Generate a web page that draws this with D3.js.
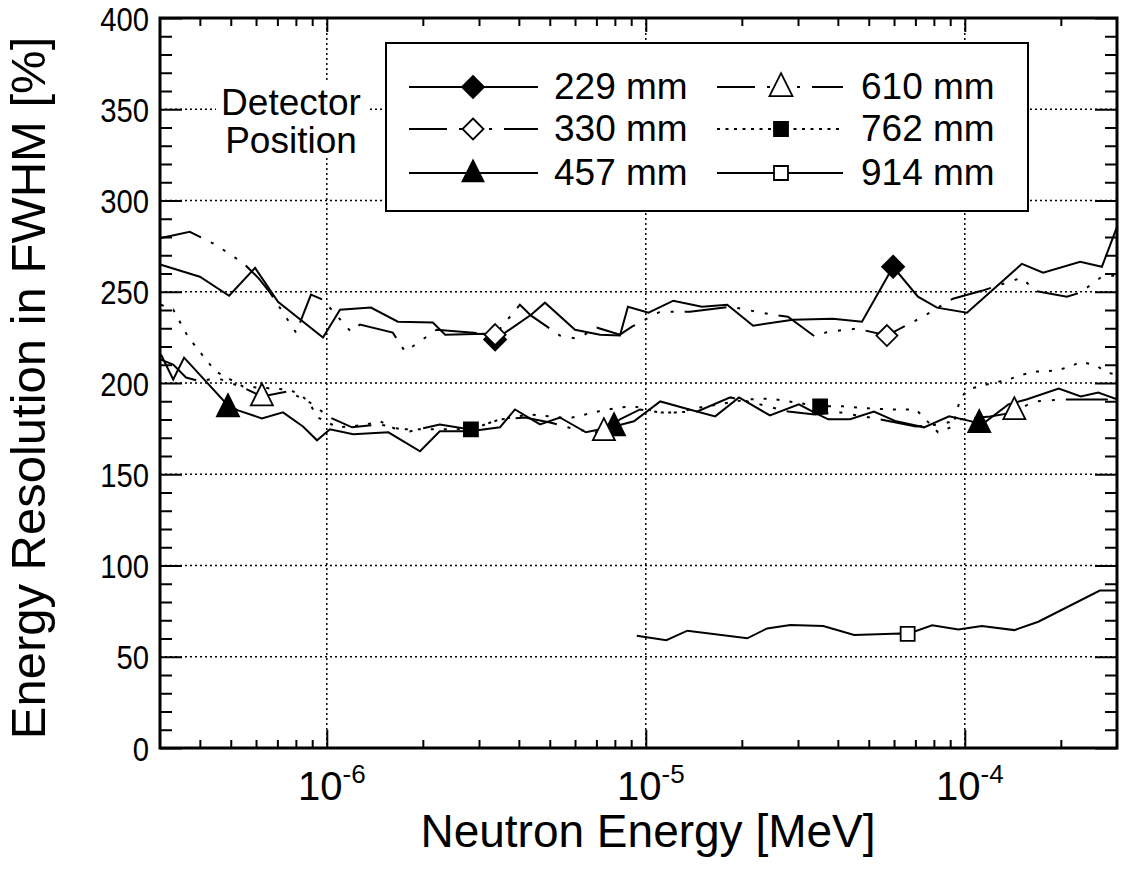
<!DOCTYPE html>
<html><head><meta charset="utf-8">
<script src="https://cdn.jsdelivr.net/npm/d3@7"></script>
<style>
body{margin:0;background:#fff}
svg{display:block}
text{font-family:"Liberation Sans",Arial,Helvetica,sans-serif;fill:#000}
</style>
</head><body>
<svg id="c" width="1123" height="870"></svg>
<script>
// ---------------- data ----------------
const yTickValues=[0,50,100,150,200,250,300,350,400];
const yGridValues=[50,100,150,200,250,300,350];
const xDecades=[1e-6,1e-5,1e-4];
const xDecadeLabels=["-6","-5","-4"];
const xLabel="Neutron Energy [MeV]";
const yLabel="Energy Resolution in FWHM [%]";
const noteLines=["Detector","Position"];
const seriesNames=["229 mm","330 mm","457 mm","610 mm","762 mm","914 mm"];

// [energy MeV, FWHM %]
const s229=[[3.02e-7,264.8],[4.00e-7,258.2],[4.94e-7,247.8],[5.96e-7,263.1],[7.03e-7,244.5],[9.73e-7,224.9],[1.10e-6,240.2],[1.375e-6,241.3],[1.67e-6,233.6],[2.15e-6,233.1],[2.35e-6,226.5],[3.13e-6,227.0],[3.37e-6,223.8],[4.37e-6,237.4],[4.83e-6,244.0],[6.0e-6,229.2],[7.19e-6,226.5],[8.30e-6,226.0],[8.79e-6,241.8],[1.02e-5,238.5],[1.22e-5,245.1],[1.50e-5,241.8],[1.80e-5,242.9],[2.17e-5,231.4],[2.89e-5,234.7],[3.86e-5,235.2],[4.76e-5,233.6],[5.96e-5,263.7],[7.13e-5,247.3],[8.18e-5,241.3],[1.016e-4,238.5],[1.51e-4,265.3],[1.76e-4,260.4],[2.30e-4,266.4],[2.69e-4,263.7],[3.0e-4,285.5]];
const s330=[[3.02e-7,279.5],[3.72e-7,282.8],[4.49e-7,275.7],[5.46e-7,265.8],[6.09e-7,257.7],[6.64e-7,249.5],[8.01e-7,227.6],[8.92e-7,248.4],[9.73e-7,245.6],[1.19e-6,228.1],[1.27e-6,232.0],[1.61e-6,227.6],[1.76e-6,217.2],[2.21e-6,229.2],[3.13e-6,227.0],[3.37e-6,226.5],[4.03e-6,242.9],[4.37e-6,236.9],[5.38e-6,226.0],[6.09e-6,224.3],[7.03e-6,230.3],[8.30e-6,226.5],[9.05e-6,230.9],[1.11e-5,239.1],[1.375e-5,239.1],[1.84e-5,241.8],[2.50e-5,237.4],[2.79e-5,236.3],[3.39e-5,225.4],[3.72e-5,228.1],[4.59e-5,229.8],[5.70e-5,226.0],[7.39e-5,236.3],[9.18e-5,246.2],[1.13e-4,250.5],[1.51e-4,257.7],[1.66e-4,250.5],[2.09e-4,247.3],[2.30e-4,249.5],[2.71e-4,258.7],[3.0e-4,258.7]];
const s457=[[3.02e-7,215.6],[3.30e-7,201.9],[3.57e-7,213.9],[4.90e-7,187.7],[5.27e-7,185.0],[6.26e-7,180.6],[7.29e-7,183.9],[8.42e-7,176.2],[9.32e-7,168.6],[1.023e-6,174.6],[1.21e-6,171.9],[1.56e-6,173.0],[1.96e-6,162.6],[2.26e-6,173.5],[2.81e-6,173.5],[3.49e-6,175.7],[3.89e-6,185.5],[4.66e-6,177.3],[5.38e-6,181.1],[6.49e-6,173.0],[7.95e-6,176.2],[9.18e-6,179.0],[1.11e-5,189.9],[1.37e-5,185.5],[1.65e-5,181.7],[1.96e-5,192.1],[2.45e-5,182.2],[3.02e-5,188.3],[3.37e-5,183.9],[3.73e-5,180.1],[4.37e-5,180.1],[5.19e-5,184.4],[6.09e-5,179.0],[7.45e-5,175.7],[8.93e-5,181.7],[1.05e-4,179.0],[1.11e-4,176.2],[1.37e-4,188.3],[1.56e-4,191.0],[1.97e-4,197.0],[2.31e-4,192.6],[2.62e-4,194.8],[3.0e-4,191.0]];
const s610=[[3.02e-7,212.8],[3.30e-7,210.1],[3.62e-7,203.0],[4.03e-7,200.8],[4.49e-7,203.0],[5.46e-7,197.5],[6.26e-7,192.6],[7.56e-7,195.4],[8.86e-7,189.3],[1.023e-6,181.1],[1.20e-6,175.7],[1.47e-6,177.3],[1.82e-6,173.5],[2.26e-6,177.3],[2.81e-6,174.6],[3.49e-6,180.1],[4.18e-6,181.1],[5.01e-6,178.4],[6.00e-6,174.6],[7.39e-6,172.4],[8.30e-6,180.1],[9.59e-6,185.5],[1.11e-5,183.9],[1.24e-5,183.9],[1.45e-5,184.4],[1.84e-5,192.1],[2.28e-5,188.3],[2.79e-5,184.4],[3.39e-5,182.8],[4.06e-5,183.9],[5.42e-5,180.1],[7.03e-5,176.2],[8.36e-5,177.3],[9.66e-5,180.1],[1.20e-4,181.7],[1.43e-4,183.9],[1.64e-4,189.9],[2.08e-4,191.0],[2.38e-4,191.0],[2.85e-4,191.0],[3.0e-4,189.9]];
const s762=[[3.02e-7,242.9],[3.30e-7,240.2],[3.67e-7,225.4],[4.18e-7,212.8],[4.49e-7,206.3],[5.46e-7,198.1],[7.56e-7,196.4],[8.30e-7,193.7],[8.86e-7,188.3],[9.38e-7,181.1],[1.08e-6,175.7],[1.19e-6,176.2],[1.33e-6,177.3],[1.47e-6,179.0],[1.65e-6,174.6],[2.11e-6,174.6],[2.83e-6,174.6],[3.49e-6,180.1],[4.34e-6,182.8],[5.38e-6,181.1],[5.87e-6,181.1],[7.08e-6,184.4],[8.30e-6,186.6],[9.18e-6,187.2],[1.11e-5,183.9],[1.24e-5,183.9],[1.48e-5,186.6],[2.09e-5,191.0],[2.45e-5,191.5],[3.52e-5,187.2],[4.15e-5,187.2],[5.01e-5,186.1],[5.87e-5,185.5],[7.03e-5,185.5],[8.24e-5,173.0],[9.18e-5,176.2],[9.66e-5,191.0],[1.02e-4,196.4],[1.17e-4,199.2],[1.37e-4,201.9],[1.52e-4,204.6],[1.68e-4,206.3],[1.93e-4,206.8],[2.14e-4,209.0],[2.31e-4,211.7],[2.58e-4,209.6],[2.79e-4,205.7],[3.0e-4,204.6]];
const s914=[[9.37e-6,61.5],[1.16e-5,59.1],[1.35e-5,64.3],[2.08e-5,60.1],[2.40e-5,65.5],[2.84e-5,67.4],[3.60e-5,66.8],[4.50e-5,61.9],[6.31e-5,62.8],[6.62e-5,62.5],[7.90e-5,67.2],[9.55e-5,65.0],[1.13e-4,66.8],[1.43e-4,64.6],[1.70e-4,69.2],[2.65e-4,86.3],[3.0e-4,86.3]];

// marker positions [energy, FWHM]
const m229=[[3.37e-6,223.8],[5.96e-5,263.7]];
const m330=[[3.37e-6,226.5],[5.70e-5,226.0]];
const m457=[[4.90e-7,186.6],[7.95e-6,176.2],[1.11e-4,177.9]];
const m610=[[6.26e-7,192.6],[7.39e-6,173.5],[1.43e-4,185.0]];
const m762=[[2.83e-6,174.6],[3.52e-5,187.2]];
const m914=[[6.62e-5,62.5]];

// ---------------- setup ----------------
const P={l:160,r:1117,t:18,b:748};
const x=d3.scaleLog().domain([3e-7,3e-4]).range([P.l,P.r]);
const y=d3.scaleLinear().domain([0,400]).range([P.b,P.t]);
const svg=d3.select("#c");

const symDiamond={draw(c,s){const r=Math.sqrt(s)/2;c.moveTo(0,-r);c.lineTo(r,0);c.lineTo(0,r);c.lineTo(-r,0);c.closePath();}};
const symTri={draw(c,s){const w=Math.sqrt(s),h=w;c.moveTo(0,-h*0.6);c.lineTo(w/2,h*0.4);c.lineTo(-w/2,h*0.4);c.closePath();}};
const symSq={draw(c,s){const r=Math.sqrt(s)/2;c.rect(-r,-r,2*r,2*r);}};

const dashDot="42,11,3,11,3,11,3,11";
const styles=[
 {data:s229,marks:m229,dash:null,sym:symDiamond,size:22*22,fill:"#000"},
 {data:s330,marks:m330,dash:dashDot,sym:symDiamond,size:21*21,fill:"#fff"},
 {data:s457,marks:m457,dash:null,sym:symTri,size:22*22,fill:"#000"},
 {data:s610,marks:m610,dash:dashDot,sym:symTri,size:22*22,fill:"#fff"},
 {data:s762,marks:m762,dash:"3,10",sym:symSq,size:14*14,fill:"#000"},
 {data:s914,marks:m914,dash:null,sym:symSq,size:14*14,fill:"#fff"}
];

// ---------------- grid ----------------
const grid=svg.append("g").attr("stroke","#000").attr("stroke-width",1.5).attr("stroke-dasharray","2,3");
grid.selectAll("line.gy").data(yGridValues).join("line").attr("class","gy")
  .attr("x1",P.l).attr("x2",P.r).attr("y1",d=>y(d)).attr("y2",d=>y(d));
grid.selectAll("line.gx").data(xDecades).join("line").attr("class","gx")
  .attr("x1",d=>x(d)).attr("x2",d=>x(d)).attr("y1",P.t).attr("y2",P.b);

// ---------------- data lines ----------------
svg.append("clipPath").attr("id","clip").append("rect")
  .attr("x",P.l).attr("y",P.t).attr("width",P.r-P.l).attr("height",P.b-P.t);
const line=d3.line().x(d=>x(d[0])).y(d=>y(d[1]));
const lg=svg.append("g").attr("clip-path","url(#clip)");
styles.forEach(s=>{
  lg.append("path").datum(s.data).attr("d",line).attr("fill","none")
    .attr("stroke","#000").attr("stroke-width",2).attr("stroke-linejoin","miter")
    .attr("stroke-dasharray",s.dash);
});
styles.forEach(s=>{
  lg.selectAll(null).data(s.marks).join("path")
    .attr("transform",d=>`translate(${x(d[0])},${y(d[1])})`)
    .attr("d",d3.symbol(s.sym,s.size))
    .attr("fill",s.fill).attr("stroke","#000").attr("stroke-width",1.8);
});

// ---------------- axes ----------------
const minorY=d3.range(0,401,10).filter(v=>v%50!==0);
const minorX=[];
[-7,-6,-5,-4].forEach(e=>{for(let k=2;k<=9;k++){const v=k*Math.pow(10,e);if(v>3.01e-7&&v<2.99e-4)minorX.push(v);}});

function styleAxis(g){g.select(".domain").remove();g.selectAll("line").attr("stroke","#000").attr("stroke-width",2);}
svg.append("g").attr("transform",`translate(${P.l},0)`).call(d3.axisLeft(y).tickValues(minorY).tickSize(-12).tickFormat("")).call(styleAxis);
svg.append("g").attr("transform",`translate(${P.r},0)`).call(d3.axisRight(y).tickValues(minorY).tickSize(-12).tickFormat("")).call(styleAxis);
svg.append("g").attr("transform",`translate(${P.r},0)`).call(d3.axisRight(y).tickValues(yTickValues).tickSize(-22).tickFormat("")).call(styleAxis);
svg.append("g").attr("transform",`translate(${P.l},0)`).call(d3.axisLeft(y).tickValues(yTickValues).tickSize(-22).tickFormat("")).call(styleAxis);

// y tick labels (narrow, tall look of the original)
svg.append("g").selectAll("text").data(yTickValues).join("text")
  .attr("transform",d=>`translate(149,${y(d)}) scale(0.86,1)`)
  .attr("text-anchor","end").attr("dy","0.37em").attr("font-size",34).text(d=>d);

svg.append("g").attr("transform",`translate(0,${P.b})`).call(d3.axisBottom(x).tickValues(minorX).tickSize(-8).tickFormat("")).call(styleAxis);
svg.append("g").attr("transform",`translate(0,${P.t})`).call(d3.axisTop(x).tickValues(minorX).tickSize(-8).tickFormat("")).call(styleAxis);
svg.append("g").attr("transform",`translate(0,${P.b})`).call(d3.axisBottom(x).tickValues(xDecades).tickSize(-18).tickFormat("")).call(styleAxis);
svg.append("g").attr("transform",`translate(0,${P.t})`).call(d3.axisTop(x).tickValues(xDecades).tickSize(-14).tickFormat("")).call(styleAxis);

// x tick labels with superscripts
const xl=svg.append("g");
xDecades.forEach((d,i)=>{
  const t=xl.append("text").attr("x",x(d)+5).attr("y",800).attr("text-anchor","middle").attr("font-size",40);
  t.append("tspan").text("10");
  t.append("tspan").attr("dy",-17).attr("font-size",26).text(xDecadeLabels[i]);
});

// frame
svg.append("rect").attr("x",P.l).attr("y",P.t).attr("width",P.r-P.l).attr("height",P.b-P.t)
  .attr("fill","none").attr("stroke","#000").attr("stroke-width",3);

// axis titles
svg.append("text").attr("x",648).attr("y",847).attr("text-anchor","middle").attr("font-size",46).text(xLabel);
svg.append("text").attr("transform","translate(45,388) rotate(-90)").attr("text-anchor","middle").attr("font-size",49).text(yLabel);

// Detector Position note
svg.append("rect").attr("x",216).attr("y",83).attr("width",152).attr("height",75).attr("fill","#fff");
noteLines.forEach((s,i)=>{
  svg.append("text").attr("x",291).attr("y",115+i*38).attr("text-anchor","middle").attr("font-size",37).text(s);
});

// ---------------- legend ----------------
const LG={x:386,y:43,w:642,h:168};
svg.append("rect").attr("x",LG.x).attr("y",LG.y).attr("width",LG.w).attr("height",LG.h)
  .attr("fill","#fff").attr("stroke","#000").attr("stroke-width",2);
const cols=[{x1:409,x2:538,mx:473,tx:554},{x1:717,x2:843,mx:781,tx:861}];
const rowsY=[87,129,173];
const legDashDot="38,12,3,12,3,12,3,12";
const legDash=[null,legDashDot,null,legDashDot,"3,5.5",null];
const legSize=[22*22,21*21,21*21,23*23,14*14,14*14];
styles.forEach((s,i)=>{
  const c=cols[Math.floor(i/3)], ry=rowsY[i%3];
  svg.append("line").attr("x1",c.x1).attr("x2",c.x2).attr("y1",ry).attr("y2",ry)
    .attr("stroke","#000").attr("stroke-width",2).attr("stroke-dasharray",legDash[i]);
  svg.append("path").attr("transform",`translate(${c.mx},${ry})`).attr("d",d3.symbol(s.sym,legSize[i]))
    .attr("fill",s.fill).attr("stroke","#000").attr("stroke-width",1.8);
  svg.append("text").attr("x",c.tx).attr("y",ry+12).attr("font-size",37).text(seriesNames[i]);
});
</script>
</body></html>
